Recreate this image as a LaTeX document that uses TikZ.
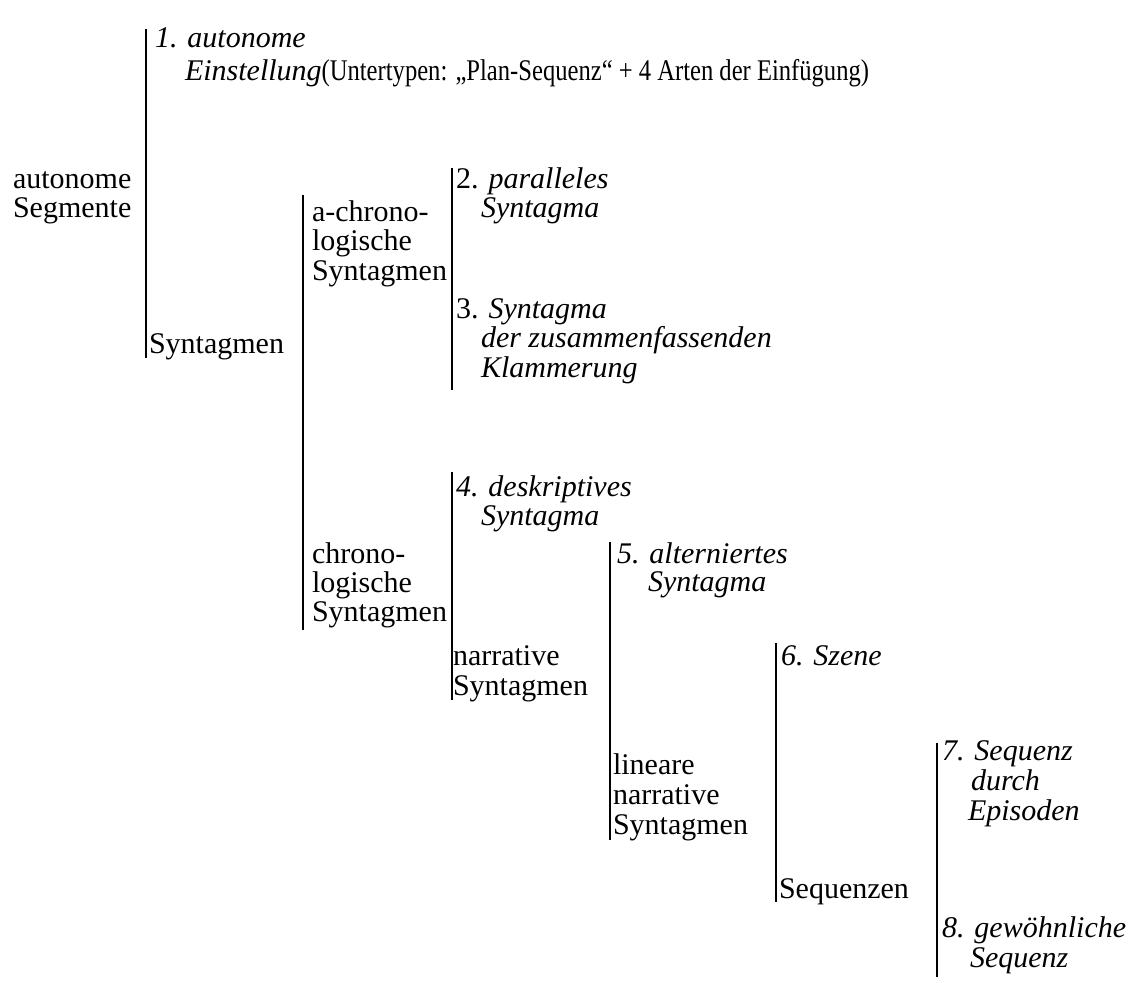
\documentclass[tikz,border=0pt]{standalone}
\usepackage{fontspec}
\setmainfont{Liberation Serif}
\newfontfamily\narrowserif[FakeStretch=0.82]{Liberation Serif}
\begin{document}
\begin{tikzpicture}[x=1pt,y=-1pt,
  txt/.style={anchor=base west,inner sep=0pt,outer sep=0pt,font=\fontsize{30}{29}\selectfont},
  it/.style={txt,font=\fontsize{30}{29}\selectfont\itshape},
  bar/.style={line width=2.2pt}]
\useasboundingbox (0,0) rectangle (1133,983);
% level 0
\node[txt] (na) at (13,188) {autonome};
\node[txt] (nb) at (13,217) {Segmente};
% 1
\node[it] (n1a) at (155,47) {1. autonome};
\node[txt] (n1b) at (185,80) {\textit{Einstellung}{\narrowserif(Untertypen: „Plan-Sequenz“ + 4 Arten der Einfügung)}};
\node[txt] (ns1) at (149,353) {Syntagmen};
% a-chronologische
\node[txt] (nac1) at (312,221) {a-chrono-};
\node[txt] (nac2) at (312,250) {logische};
\node[txt] (nac3) at (312,280) {Syntagmen};
\node[txt] (n2a) at (456,188) {2. \textit{paralleles}};
\node[it] (n2b) at (481,217) {Syntagma};
\node[txt] (n3a) at (456,318) {3. \textit{Syntagma}};
\node[it] (n3b) at (481,347) {der zusammenfassenden};
\node[it] (n3c) at (481,377) {Klammerung};
% chronologische
\node[txt] (nc1) at (312,563) {chrono-};
\node[txt] (nc2) at (312,592) {logische};
\node[txt] (nc3) at (312,621) {Syntagmen};
\node[it] (n4a) at (456,496) {4. deskriptives};
\node[it] (n4b) at (481,525) {Syntagma};
\node[txt] (nn1) at (453,665) {narrative};
\node[txt] (nn2) at (453,695) {Syntagmen};
\node[it] (n5a) at (617,563) {5. alterniertes};
\node[it] (n5b) at (648,591) {Syntagma};
\node[txt] (nl1) at (613,774) {lineare};
\node[txt] (nl2) at (613,804) {narrative};
\node[txt] (nl3) at (613,834) {Syntagmen};
\node[it] (n6) at (781,665) {6. Szene};
\node[txt] (nseq) at (779,898) {Sequenzen};
\node[it] (n7a) at (942,760) {7. Sequenz};
\node[it] (n7b) at (971,790) {durch};
\node[it] (n7c) at (968,820) {Episoden};
\node[it] (n8a) at (942,937) {8. gewöhnliche};
\node[it] (n8b) at (970,967) {Sequenz};
% bars
\coordinate (A1) at (146,29);  \coordinate (A2) at (146,358);
\coordinate (B1) at (303,195); \coordinate (B2) at (303,630);
\coordinate (C1) at (452,168); \coordinate (C2) at (452,390);
\coordinate (D1) at (452,472); \coordinate (D2) at (452,700);
\coordinate (E1) at (610,542); \coordinate (E2) at (610,840);
\coordinate (F1) at (776,643); \coordinate (F2) at (776,902);
\coordinate (G1) at (937,743); \coordinate (G2) at (937,977);
\draw[bar] (A1) -- (A2);
\draw[bar] (B1) -- (B2);
\draw[bar] (C1) -- (C2);
\draw[bar] (D1) -- (D2);
\draw[bar] (E1) -- (E2);
\draw[bar] (F1) -- (F2);
\draw[bar] (G1) -- (G2);
\end{tikzpicture}
\end{document}
